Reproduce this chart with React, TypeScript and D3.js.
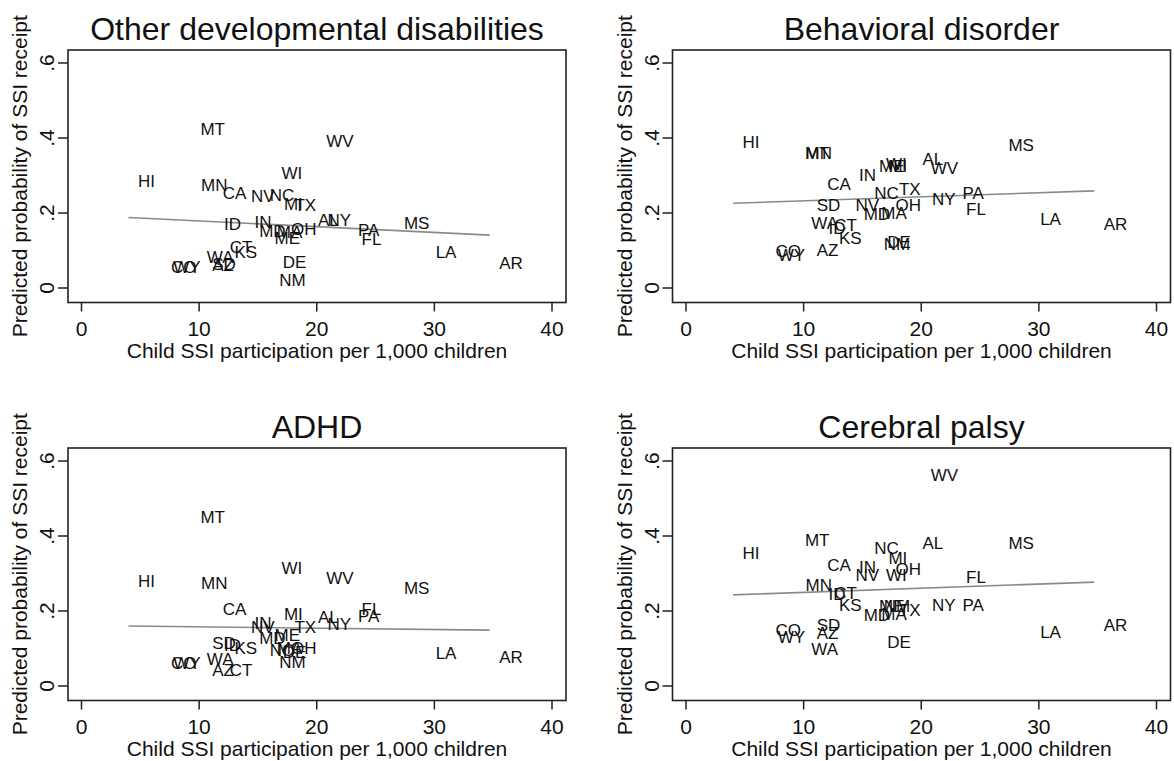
import React from "react";
import * as d3 from "d3";

const states = ["HI","CO","WY","MT","MN","WA","SD","AZ","CA","ID","CT","KS","NV","IN","MD","NC","ME","MA","NM","WI","DE","MI","OH","TX","AL","WV","NY","PA","FL","MS","LA","AR"];
const participation = [4.0,6.8,7.0,9.3,9.35,9.85,10.3,10.3,11.2,11.3,11.8,12.2,13.6,13.9,14.3,15.2,15.6,15.8,16.0,16.2,16.3,16.4,17.0,17.3,19.3,20.0,20.1,22.7,23.0,26.6,29.3,34.7];

const otherDev = [0.285,0.055,0.057,0.423,0.275,0.083,0.064,0.062,0.252,0.171,0.110,0.095,0.244,0.177,0.153,0.248,0.132,0.150,0.021,0.307,0.070,0.224,0.156,0.222,0.180,0.393,0.181,0.155,0.130,0.174,0.095,0.066];
const behavioral = [0.390,0.099,0.088,0.359,0.359,0.172,0.221,0.101,0.277,0.159,0.168,0.132,0.221,0.300,0.197,0.252,0.325,0.199,0.117,0.330,0.122,0.325,0.221,0.264,0.343,0.319,0.236,0.254,0.210,0.381,0.183,0.170];
const adhd = [0.281,0.062,0.062,0.451,0.274,0.071,0.114,0.043,0.204,0.109,0.043,0.101,0.158,0.167,0.127,0.095,0.136,0.100,0.065,0.314,0.090,0.192,0.101,0.158,0.183,0.287,0.165,0.187,0.204,0.260,0.089,0.076];
const cerebral = [0.354,0.149,0.130,0.389,0.269,0.099,0.163,0.142,0.323,0.245,0.247,0.216,0.296,0.316,0.189,0.369,0.212,0.192,0.212,0.296,0.118,0.341,0.312,0.203,0.382,0.563,0.216,0.216,0.290,0.382,0.145,0.163];

const fitX = [4.0, 34.7];
const fitOtherDev = [0.188, 0.141];
const fitBehavioral = [0.226, 0.259];
const fitAdhd = [0.160, 0.149];
const fitCerebral = [0.243, 0.277];

const panelTitles = ["Other developmental disabilities","Behavioral disorder","ADHD","Cerebral palsy"];
const xTicks = [0,10,20,30,40];
const yTicks = [0,0.2,0.4,0.6];
const yTickLabels = ["0",".2",".4",".6"];
const xTitle = "Child SSI participation per 1,000 children";
const yTitle = "Predicted probability of SSI receipt";

const FONT = "'Liberation Sans', Arial, Helvetica, sans-serif";

const panels = [
  { title: panelTitles[0], ys: otherDev, fit: fitOtherDev, x0: 68, y0: 50 },
  { title: panelTitles[1], ys: behavioral, fit: fitBehavioral, x0: 672.5, y0: 50 },
  { title: panelTitles[2], ys: adhd, fit: fitAdhd, x0: 68, y0: 448 },
  { title: panelTitles[3], ys: cerebral, fit: fitCerebral, x0: 672.5, y0: 448 },
];

const BOX_W = 498;
const BOX_H = 252.5;

function Panel({ p }: { p: any }) {
  const x = d3.scaleLinear().domain([0, 40]).range([p.x0 + 13.5, p.x0 + 484]);
  const y = d3.scaleLinear().domain([0, 0.6]).range([p.y0 + 238, p.y0 + 13]);
  const line = d3.line<number>().x((d) => x(d)).y((_, i) => y(p.fit[i]));
  const bottom = p.y0 + BOX_H;
  const cx = p.x0 + BOX_W / 2;
  return (
    <g>
      <text x={cx} y={p.y0 - 10} textAnchor="middle" fontSize={32} fontFamily={FONT} fill="#111">{p.title}</text>
      <rect x={p.x0} y={p.y0} width={BOX_W} height={BOX_H} fill="none" stroke="#222" strokeWidth={1.6} />
      {yTicks.map((t, i) => (
        <g key={"y" + i}>
          <line x1={p.x0 - 10} x2={p.x0} y1={y(t)} y2={y(t)} stroke="#222" strokeWidth={1.5} />
          <text transform={`translate(${p.x0 - 21},${y(t)}) rotate(-90)`} textAnchor="middle" dy="0.35em" fontSize={21} fontFamily={FONT} fill="#111">{yTickLabels[i]}</text>
        </g>
      ))}
      {xTicks.map((t, i) => (
        <g key={"x" + i}>
          <line x1={x(t)} x2={x(t)} y1={bottom} y2={bottom + 9} stroke="#222" strokeWidth={1.5} />
          <text x={x(t)} y={bottom + 26} dy="0.35em" textAnchor="middle" fontSize={21} fontFamily={FONT} fill="#111">{t}</text>
        </g>
      ))}
      <text x={cx} y={bottom + 48} dy="0.35em" textAnchor="middle" fontSize={21} fontFamily={FONT} fill="#111">{xTitle}</text>
      <text transform={`translate(${p.x0 - 48},${p.y0 + BOX_H / 2}) rotate(-90)`} dy="0.35em" textAnchor="middle" fontSize={21} fontFamily={FONT} fill="#111">{yTitle}</text>
      <path d={line(fitX) || ""} fill="none" stroke="#8a8a8a" strokeWidth={1.6} />
      {states.map((s, i) => (
        <text key={s} x={x(participation[i]) + 9.5} y={y(p.ys[i])} dy="0.35em" fontSize={17} fontFamily={FONT} fill="#111">{s}</text>
      ))}
    </g>
  );
}

export default function App() {
  return (
    <svg width={1174} height={761} style={{ position: "absolute", left: 0, top: 0, background: "#fff" }}>
      <rect x={0} y={0} width={1174} height={761} fill="#fff" />
      {panels.map((p, i) => <Panel key={i} p={p} />)}
    </svg>
  );
}
